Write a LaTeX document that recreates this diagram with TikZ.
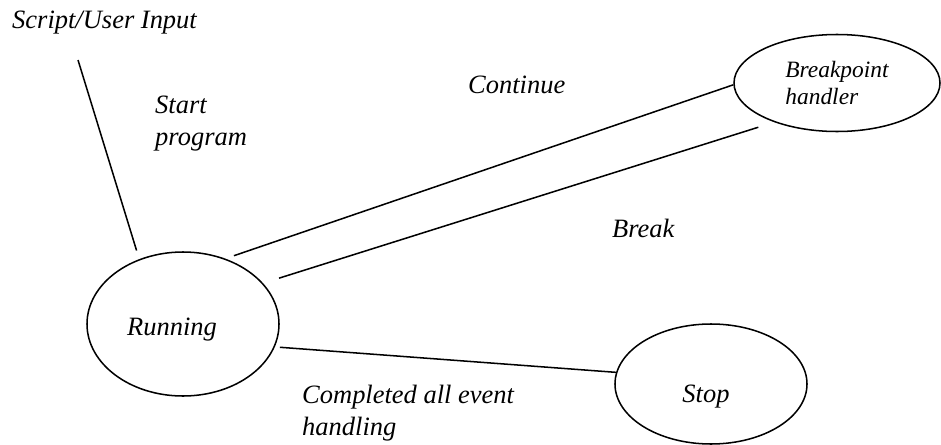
\documentclass[tikz,border=0pt]{standalone}
\usepackage{fontspec}
\setmainfont{Liberation Serif}[ItalicFont={Liberation Serif Italic}]
\usetikzlibrary{shapes.geometric}
\tikzset{st/.style={ellipse,draw=black,line width=1.3pt,inner sep=0pt}}
\tikzset{lb/.style={inner sep=0pt,anchor=base west,align=left}}
\tikzset{tr/.style={line width=1.3pt}}

\begin{document}
\begin{tikzpicture}[x=0.03cm,y=-0.03cm,font=\rmfamily\itshape\fontsize{22.6}{27}\selectfont]
\useasboundingbox (0,0) rectangle (941,445);

\node[st,minimum width=5.76cm,minimum height=4.32cm,
  label={[xshift=-0.33cm,yshift=-0.18cm]center:Running}] at (183,324) (run) {};
\node[st,minimum width=5.76cm,minimum height=3.6cm,
  label={[xshift=-0.15cm,yshift=-0.39cm]center:Stop}] at (711,384) (stop) {};
\node[st,minimum width=6.18cm,minimum height=2.91cm,align=left,
  font=\rmfamily\itshape\fontsize{20}{23}\selectfont] at (837,83) (bp) {Breakpoint\\handler};
\coordinate (in) at (78,60);

\node[lb] at (12,28) (user) {Script/User Input};
\node[lb] at (155,145) (start) {Start\\program};
\node[lb] at (468,93) (cont) {Continue};
\node[lb] at (612,237) (brk) {Break};
\node[lb] at (302,435) (done) {Completed all event\\handling};

\draw[tr,shorten >=0.27cm] (in) -- (run.124);
\draw[tr,shorten <=0.27cm] (run.57) -- (bp.181);
\draw[tr,shorten <=0.5cm,shorten >=0.5cm] (run.27) -- (bp.212);
\draw[tr,shorten <=0.15cm] (run.-14) -- (stop.173);

\end{tikzpicture}
\end{document}
